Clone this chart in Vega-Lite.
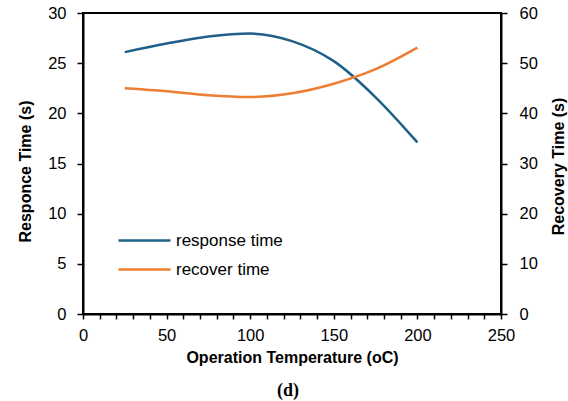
{
  "$schema": "https://vega.github.io/schema/vega-lite/v6.json",
  "width": 418,
  "height": 301,
  "autosize": "none",
  "padding": {"left": 83, "top": 13, "right": 67, "bottom": 87},
  "background": "white",
  "config": {
    "view": {"stroke": "black", "strokeWidth": 2},
    "font": "Liberation Sans",
    "axis": {
      "labelFont": "Liberation Sans",
      "labelFontSize": 16.5,
      "labelColor": "black",
      "titleFont": "Liberation Sans",
      "titleFontSize": 16,
      "titleFontWeight": "bold",
      "titleColor": "black",
      "domainColor": "black",
      "domainWidth": 2,
      "tickColor": "black",
      "tickWidth": 1.5,
      "tickSize": 6,
      "grid": false
    }
  },
  "title": {
    "text": "(d)",
    "orient": "bottom",
    "anchor": "middle",
    "font": "Liberation Serif",
    "fontSize": 18,
    "fontWeight": "bold",
    "color": "black",
    "offset": 16,
    "dx": -4
  },
  "data": {
    "values": [
      {"temp": 25, "series": "response time", "value": 26.1},
      {"temp": 50, "series": "response time", "value": 26.95},
      {"temp": 75, "series": "response time", "value": 27.65},
      {"temp": 100, "series": "response time", "value": 27.95},
      {"temp": 125, "series": "response time", "value": 27.2},
      {"temp": 150, "series": "response time", "value": 25.2},
      {"temp": 175, "series": "response time", "value": 21.6},
      {"temp": 200, "series": "response time", "value": 17.1},
      {"temp": 25, "series": "recover time", "value": 45.0},
      {"temp": 50, "series": "recover time", "value": 44.4},
      {"temp": 75, "series": "recover time", "value": 43.6},
      {"temp": 100, "series": "recover time", "value": 43.25},
      {"temp": 125, "series": "recover time", "value": 44.0},
      {"temp": 150, "series": "recover time", "value": 45.9},
      {"temp": 175, "series": "recover time", "value": 48.8},
      {"temp": 200, "series": "recover time", "value": 53.1}
    ]
  },
  "encoding": {
    "x": {
      "field": "temp",
      "type": "quantitative",
      "scale": {"domain": [0, 250], "nice": false},
      "axis": {
        "title": "Operation Temperature (oC)",
        "values": [0, 10, 20, 30, 40, 50, 60, 70, 80, 90, 100, 110, 120, 130, 140, 150, 160, 170, 180, 190, 200, 210, 220, 230, 240, 250],
        "labelExpr": "datum.value % 50 === 0 ? datum.label : ''",
        "labelFlush": false,
        "tickSize": 5,
        "labelPadding": 8,
        "titlePadding": 6,
        "labelOverlap": false
      }
    },
    "color": {
      "field": "series",
      "type": "nominal",
      "scale": {"domain": ["response time", "recover time"], "range": ["#1F6088", "#ED7D31"]},
      "legend": {
        "title": null,
        "orient": "none",
        "legendX": 44,
        "legendY": 210,
        "symbolType": "M-1.6,0L1.6,0",
        "symbolSize": 1056,
        "symbolStrokeWidth": 2.5,
        "symbolFillColor": "transparent",
        "labelFont": "Liberation Sans",
        "labelFontSize": 17,
        "labelColor": "black",
        "labelOffset": 14,
        "rowPadding": 3,
        "labelLimit": 300
      }
    }
  },
  "layer": [
    {
      "transform": [{"filter": "datum.series === 'response time'"}],
      "mark": {"type": "line", "interpolate": "monotone", "strokeWidth": 2.5},
      "encoding": {
        "y": {
          "field": "value",
          "type": "quantitative",
          "scale": {"domain": [0, 30], "nice": false},
          "axis": {
            "title": "Responce Time (s)",
            "values": [0, 5, 10, 15, 20, 25, 30],
            "labelPadding": 11,
            "titleAngle": -90,
            "titleAlign": "center",
            "titleBaseline": "middle",
            "titleX": -58,
            "titleY": 158
          }
        }
      }
    },
    {
      "transform": [{"filter": "datum.series === 'recover time'"}],
      "mark": {"type": "line", "interpolate": "monotone", "strokeWidth": 2.5},
      "encoding": {
        "y": {
          "field": "value",
          "type": "quantitative",
          "scale": {"domain": [0, 60], "nice": false},
          "axis": {
            "orient": "right",
            "title": "Recovery Time (s)",
            "values": [0, 10, 20, 30, 40, 50, 60],
            "labelPadding": 12,
            "titleAngle": -90,
            "titleAlign": "center",
            "titleBaseline": "middle",
            "titleX": 57,
            "titleY": 153
          }
        }
      }
    }
  ],
  "resolve": {"scale": {"y": "independent"}}
}
